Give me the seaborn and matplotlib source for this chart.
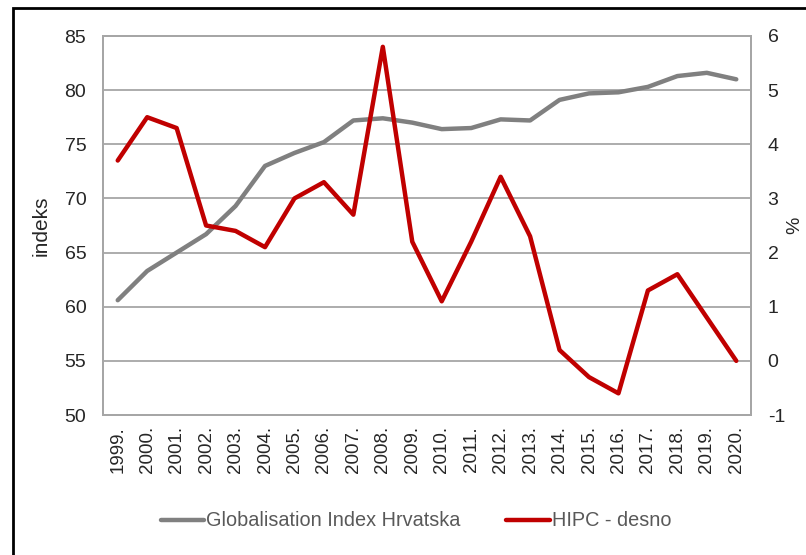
import numpy as np
import pandas as pd
import matplotlib.pyplot as plt
import seaborn as sns
from matplotlib.patches import Rectangle
from matplotlib.lines import Line2D

years = [str(y) + '.' for y in range(1999, 2021)]
glob_index = [60.6, 63.3, 65.0, 66.7, 69.3, 73.0, 74.2, 75.2, 77.2, 77.4, 77.0,
              76.4, 76.5, 77.3, 77.2, 79.1, 79.7, 79.8, 80.3, 81.3, 81.6, 81.0]
hipc = [3.7, 4.5, 4.3, 2.5, 2.4, 2.1, 3.0, 3.3, 2.7, 5.8, 2.2,
        1.1, 2.2, 3.4, 2.3, 0.2, -0.3, -0.6, 1.3, 1.6, 0.8, 0.0]

df = pd.DataFrame({'pos': np.arange(len(years)), 'year': years,
                   'glob': glob_index, 'hipc': hipc})

sns.set_style('white')
plt.rcParams['font.family'] = ['Liberation Sans', 'DejaVu Sans']
plt.rcParams['axes.unicode_minus'] = False

GRAY = '#808080'
RED = '#C00000'
GRID = '#A6A6A6'

fig = plt.figure(figsize=(8.06, 5.55), dpi=100)
ax = fig.add_axes([103 / 806, 1 - 415 / 555, (751 - 103) / 806, (415 - 36) / 555])
ax2 = ax.twinx()

sns.lineplot(data=df, x='pos', y='glob', ax=ax, color=GRAY, linewidth=3.2)
sns.lineplot(data=df, x='pos', y='hipc', ax=ax2, color=RED, linewidth=3.2)

ax.set_xlim(-0.5, len(years) - 0.5)
ax.set_ylim(50, 85)
ax.set_yticks(range(50, 86, 5))
ax2.set_ylim(-1, 6)
ax2.set_yticks(range(-1, 7))

ax.set_xticks(df['pos'])
ax.set_xticklabels(years, rotation=90, fontsize=13.5)
ax.tick_params(axis='y', labelsize=14, length=0, pad=12)
ax.tick_params(axis='x', length=0, pad=8)
ax2.tick_params(axis='y', labelsize=14, length=0, pad=12)

ax.grid(axis='y', color=GRID, linewidth=1.3)
ax.set_axisbelow(True)
for a in (ax, ax2):
    for s in a.spines.values():
        s.set_color(GRID)
        s.set_linewidth(1.3)

ax.set_xlabel('')
ax.set_ylabel('indeks', fontsize=15, labelpad=10)
ax2.set_ylabel('%', fontsize=14, labelpad=1)

handles = [Line2D([], [], color=GRAY, linewidth=3.2),
           Line2D([], [], color=RED, linewidth=3.2)]
fig.legend(handles, ['Globalisation Index Hrvatska', 'HIPC - desno'],
           loc='center', bbox_to_anchor=(416 / 806, 1 - 521 / 555), ncol=2,
           frameon=False, fontsize=14.3, labelcolor='#595959',
           handlelength=2.2, handletextpad=0.1, columnspacing=2.3)

fig.patches.append(Rectangle((13 / 806, -0.1), 1.2, 1 - 8 / 555 + 0.1,
                             transform=fig.transFigure, fill=False,
                             edgecolor='black', linewidth=2))

fig.savefig('out.png', dpi=100)
